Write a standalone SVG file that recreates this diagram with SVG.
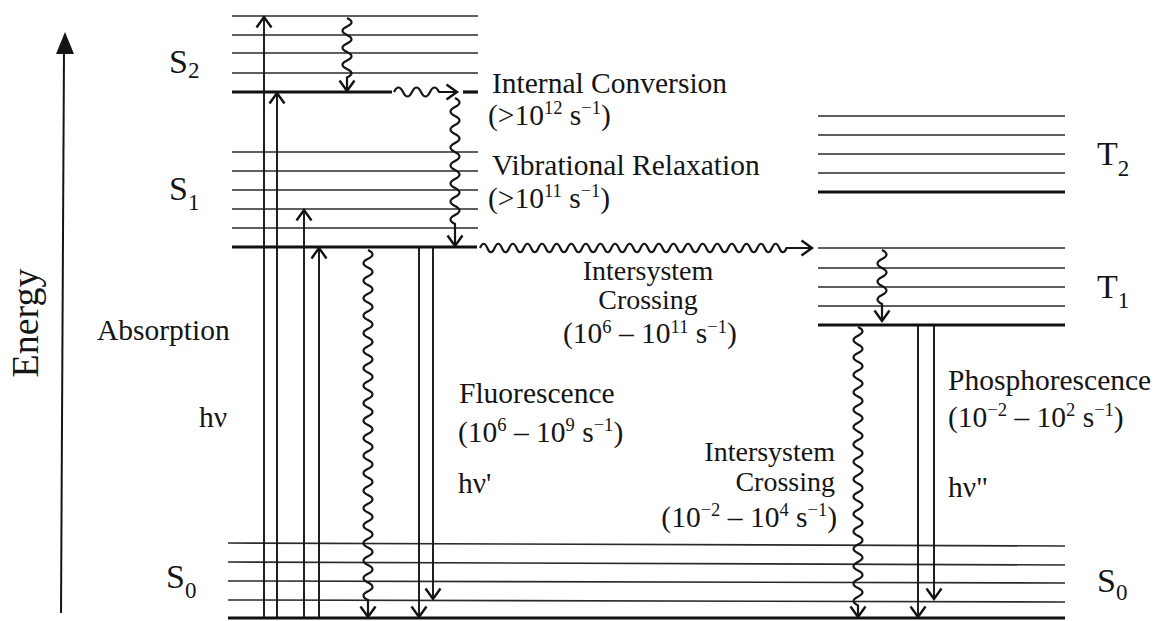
<svg xmlns="http://www.w3.org/2000/svg" width="1163" height="621" viewBox="0 0 1163 621">
  <style>
    text { font-family: "Liberation Serif", "Times New Roman", serif; fill: #151515; }
    .lbl { font-size: 29.5px; }
    .tight { font-size: 28px; }
    .sup { font-size: 18.5px; }
    .state { font-size: 34px; }
    .sub { font-size: 23px; }
    .lvl { stroke: #2a2a2a; stroke-width: 1.6; fill: none; }
    .lvl0 { stroke: #111; stroke-width: 3.2; fill: none; }
    .rad { stroke: #151515; stroke-width: 1.9; fill: none; marker-end: url(#chev); }
    .wave { stroke: #151515; stroke-width: 2.2; fill: none; marker-end: url(#chev); }
  </style>
  <defs>
    <marker id="chev" viewBox="0 0 12 16" refX="11" refY="8" markerWidth="12" markerHeight="16" markerUnits="userSpaceOnUse" orient="auto" overflow="visible">
      <path d="M0.5 0.5 L11 8 L0.5 15.5" fill="none" stroke="#111" stroke-width="2.4"/>
    </marker>
  </defs>

  <rect width="1163" height="621" fill="#ffffff"/>

  <!-- energy axis -->
  <g id="energy-axis">
    <line x1="61" y1="613" x2="64" y2="50" stroke="#151515" stroke-width="2"/>
    <polygon points="65,32 56,54 74,54" fill="#151515"/>
    <text transform="translate(38,323) rotate(-90)" text-anchor="middle" font-size="38">Energy</text>
  </g>

  <!-- singlet S2 manifold -->
  <g id="S2">
    <line class="lvl" x1="232" y1="16" x2="478" y2="16"/>
    <line class="lvl" x1="232" y1="35" x2="478" y2="35"/>
    <line class="lvl" x1="232" y1="53" x2="478" y2="53"/>
    <line class="lvl" x1="232" y1="73" x2="478" y2="73"/>
    <line class="lvl0" x1="232" y1="92" x2="392" y2="92"/>
    <line class="lvl0" x1="463" y1="92" x2="478" y2="92"/>
    <text class="state" x="169" y="73">S<tspan class="sub" dy="5">2</tspan></text>
  </g>

  <!-- singlet S1 manifold -->
  <g id="S1">
    <line class="lvl" x1="232" y1="152" x2="478" y2="152"/>
    <line class="lvl" x1="232" y1="171" x2="478" y2="171"/>
    <line class="lvl" x1="232" y1="190" x2="478" y2="190"/>
    <line class="lvl" x1="232" y1="209" x2="478" y2="209"/>
    <line class="lvl" x1="232" y1="228" x2="478" y2="228"/>
    <line class="lvl0" x1="232" y1="247" x2="477" y2="247"/>
    <text class="state" x="169" y="200">S<tspan class="sub" dy="10">1</tspan></text>
  </g>

  <!-- ground state S0 -->
  <g id="S0">
    <line class="lvl" x1="228" y1="543" x2="1065" y2="546"/>
    <line class="lvl" x1="228" y1="562" x2="1065" y2="565"/>
    <line class="lvl" x1="228" y1="581" x2="1065" y2="583"/>
    <line class="lvl" x1="228" y1="600" x2="1065" y2="602"/>
    <line class="lvl0" x1="228" y1="618" x2="1065" y2="618"/>
    <text class="state" x="166" y="588">S<tspan class="sub" dy="10">0</tspan></text>
    <text class="state" x="1097" y="592">S<tspan class="sub" dy="8">0</tspan></text>
  </g>

  <!-- triplet T2 manifold -->
  <g id="T2">
    <line class="lvl" x1="818" y1="116" x2="1065" y2="116"/>
    <line class="lvl" x1="818" y1="135" x2="1065" y2="135"/>
    <line class="lvl" x1="818" y1="154" x2="1065" y2="154"/>
    <line class="lvl" x1="818" y1="173" x2="1065" y2="173"/>
    <line class="lvl0" x1="818" y1="192" x2="1065" y2="192"/>
    <text class="state" x="1097" y="165">T<tspan class="sub" dy="11">2</tspan></text>
  </g>

  <!-- triplet T1 manifold -->
  <g id="T1">
    <line class="lvl" x1="818" y1="248" x2="1065" y2="248"/>
    <line class="lvl" x1="818" y1="268" x2="1065" y2="268"/>
    <line class="lvl" x1="818" y1="287" x2="1065" y2="287"/>
    <line class="lvl" x1="818" y1="306" x2="1065" y2="306"/>
    <line class="lvl0" x1="818" y1="325" x2="1065" y2="325"/>
    <text class="state" x="1097" y="298">T<tspan class="sub" dy="10">1</tspan></text>
  </g>

  <!-- transitions -->
  <g id="connectors">
    <!-- absorption -->
    <line class="rad" x1="264" y1="618" x2="264" y2="17"/>
    <line class="rad" x1="277" y1="618" x2="277" y2="93"/>
    <line class="rad" x1="304" y1="618" x2="304" y2="210"/>
    <line class="rad" x1="319" y1="618" x2="319" y2="248"/>
    <!-- fluorescence -->
    <line class="rad" x1="419" y1="248" x2="419" y2="617"/>
    <line class="rad" x1="433" y1="248" x2="433" y2="599"/>
    <!-- phosphorescence -->
    <line class="rad" x1="918" y1="326" x2="918" y2="617"/>
    <line class="rad" x1="934" y1="326" x2="934" y2="599"/>
    <!-- vibrational relaxation in S2 -->
    <path class="wave" d="M347 18 q9 4.25 0 8.5 t0 8.5 0 8.5 0 8.5 0 8.5 0 8.5 0 8.5 L347 91"/>
    <!-- internal conversion S2 to S1 -->
    <path class="wave" d="M394 92 q4.5 -9 9 0 t9 0 9 0 9 0 9 0 L457 92"/>
    <!-- vibrational relaxation in S1 -->
    <path class="wave" d="M455 98 q9 4.5 0 9 t0 9 0 9 0 9 0 9 0 9 0 9 0 9 0 9 0 9 0 9 0 9 0 9 0 9 L455 246"/>
    <!-- intersystem crossing S1 to T1 -->
    <path class="wave" d="M480 248 q3.65 -8.5 7.3 0 t7.3 0 7.3 0 7.3 0 7.3 0 7.3 0 7.3 0 7.3 0 7.3 0 7.3 0 7.3 0 7.3 0 7.3 0 7.3 0 7.3 0 7.3 0 7.3 0 7.3 0 7.3 0 7.3 0 7.3 0 7.3 0 7.3 0 7.3 0 7.3 0 7.3 0 7.3 0 7.3 0 7.3 0 7.3 0 7.3 0 7.3 0 7.3 0 7.3 0 7.3 0 7.3 0 7.3 0 7.3 0 7.3 0 7.3 0 7.3 0 7.3 0 L812 248"/>
    <!-- internal conversion S1 to S0 -->
    <path class="wave" d="M368 250 q9 4.375 0 8.75 t0 8.75 0 8.75 0 8.75 0 8.75 0 8.75 0 8.75 0 8.75 0 8.75 0 8.75 0 8.75 0 8.75 0 8.75 0 8.75 0 8.75 0 8.75 0 8.75 0 8.75 0 8.75 0 8.75 0 8.75 0 8.75 0 8.75 0 8.75 0 8.75 0 8.75 0 8.75 0 8.75 0 8.75 0 8.75 0 8.75 0 8.75 0 8.75 0 8.75 0 8.75 0 8.75 0 8.75 0 8.75 0 8.75 0 8.75 L368 617"/>
    <!-- vibrational relaxation in T1 -->
    <path class="wave" d="M882 250 q9 4.5 0 9 t0 9 0 9 0 9 0 9 0 9 L882 321"/>
    <!-- intersystem crossing T1 to S0 -->
    <path class="wave" d="M858 327 q9 4.35 0 8.7 t0 8.7 0 8.7 0 8.7 0 8.7 0 8.7 0 8.7 0 8.7 0 8.7 0 8.7 0 8.7 0 8.7 0 8.7 0 8.7 0 8.7 0 8.7 0 8.7 0 8.7 0 8.7 0 8.7 0 8.7 0 8.7 0 8.7 0 8.7 0 8.7 0 8.7 0 8.7 0 8.7 0 8.7 0 8.7 0 8.7 0 8.7 L858 617"/>
  </g>

  <!-- process labels -->
  <g id="labels">
    <text class="lbl" x="492" y="93">Internal Conversion</text>
    <text class="lbl" x="488" y="125">(&gt;10<tspan class="sup" dy="-11">12</tspan><tspan dy="11"> s</tspan><tspan class="sup" dy="-11">−1</tspan><tspan dy="11">)</tspan></text>
    <text class="lbl" x="492" y="175">Vibrational Relaxation</text>
    <text class="lbl" x="488" y="208">(&gt;10<tspan class="sup" dy="-11">11</tspan><tspan dy="11"> s</tspan><tspan class="sup" dy="-11">−1</tspan><tspan dy="11">)</tspan></text>
    <text class="tight" x="648" y="280" text-anchor="middle">Intersystem</text>
    <text class="tight" x="648" y="309" text-anchor="middle">Crossing</text>
    <text class="lbl" x="563" y="343">(10<tspan class="sup" dy="-10">6</tspan><tspan dy="10"> – 10</tspan><tspan class="sup" dy="-10">11</tspan><tspan dy="10"> s</tspan><tspan class="sup" dy="-10">−1</tspan><tspan dy="10">)</tspan></text>
    <text class="lbl" x="97" y="340">Absorption</text>
    <text class="lbl" x="199" y="427">hν</text>
    <text class="lbl" x="459" y="403">Fluorescence</text>
    <text class="lbl" x="458" y="442">(10<tspan class="sup" dy="-11">6</tspan><tspan dy="11"> – 10</tspan><tspan class="sup" dy="-11">9</tspan><tspan dy="11"> s</tspan><tspan class="sup" dy="-11">−1</tspan><tspan dy="11">)</tspan></text>
    <text class="lbl" x="458" y="493">hν'</text>
    <text class="lbl" x="948" y="390">Phosphorescence</text>
    <text class="lbl" x="948" y="427">(10<tspan class="sup" dy="-11">−2</tspan><tspan dy="11"> – 10</tspan><tspan class="sup" dy="-11">2</tspan><tspan dy="11"> s</tspan><tspan class="sup" dy="-11">−1</tspan><tspan dy="11">)</tspan></text>
    <text class="lbl" x="948" y="497">hν"</text>
    <text class="tight" x="835" y="461" text-anchor="end">Intersystem</text>
    <text class="tight" x="835" y="491" text-anchor="end">Crossing</text>
    <text class="lbl" x="837" y="527" text-anchor="end">(10<tspan class="sup" dy="-11">−2</tspan><tspan dy="11"> – 10</tspan><tspan class="sup" dy="-11">4</tspan><tspan dy="11"> s</tspan><tspan class="sup" dy="-11">−1</tspan><tspan dy="11">)</tspan></text>
  </g>
</svg>
